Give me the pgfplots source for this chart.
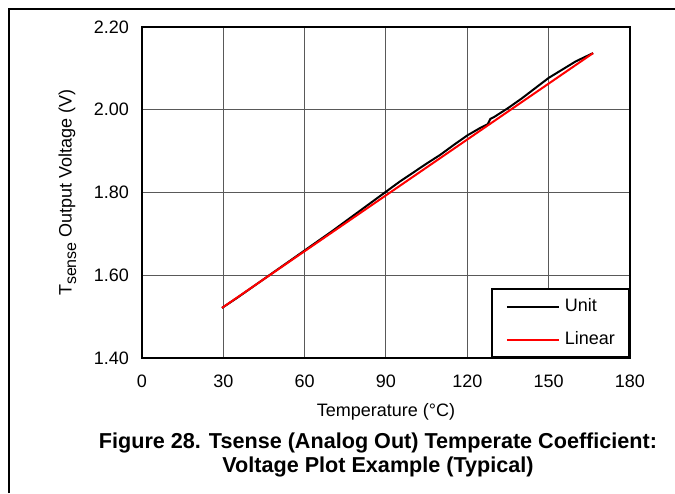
\documentclass[border=0pt]{standalone}
\usepackage{fontspec}
\setmainfont{Liberation Sans}
\usepackage{pgfplots}
\pgfplotsset{compat=1.18}

\begin{document}
\begin{tikzpicture}
% page frame (left and top rules) and bounding box
\path[use as bounding box] (-71pt,-67.5pt) rectangle (266.5pt,179pt);
\draw[line width=0.8pt] (-66.5pt,-67.5pt) -- (-66.5pt,174.5pt) -- (266.5pt,174.5pt);
\begin{axis}[
  at={(0pt,0pt)}, anchor=south west,
  scale only axis,
  width=244pt, height=165.5pt,
  xmin=0, xmax=180,
  ymin=1.4, ymax=2.2,
  xtick={0,30,...,180},
  ytick={1.4,1.6,1.8,2.0,2.2},
  grid=major,
  major grid style={line width=0.5pt, black!65},
  axis line style={line width=1.25pt},
  tick style={draw=none},
  tick label style={font=\fontsize{9}{10}\selectfont},
  /pgf/number format/assume math mode=true,
  yticklabel style={xshift=-3pt, /pgf/number format/.cd, fixed, fixed zerofill, precision=2},
  xticklabel style={yshift=-5pt},
  label style={font=\fontsize{9}{10}\selectfont},
  xlabel={Temperature (°C)},
  ylabel={T\raisebox{-0.45ex}{\fontsize{8}{9}\selectfont sense} Output Voltage (V)},
  xlabel style={yshift=-1pt},
  ylabel style={yshift=2pt},
  legend cell align=left,
  legend style={at={(1,0)}, anchor=south east, draw=black, line width=1pt,
    font=\fontsize{9}{10}\selectfont, inner xsep=7pt, inner ysep=4.5pt,
    row sep=8pt, column sep=2.5pt,
    nodes={inner sep=0pt, text height=6.5pt, text depth=2pt}},
  legend image code/.code={\draw[#1] (0pt,0pt) -- (26pt,0pt);},
]
\addplot[black, line width=1pt] coordinates {
  (29.5,1.521) (35,1.545) (40,1.568) (45,1.591) (50,1.614) (55,1.637)
  (60,1.660) (65,1.683) (70,1.706) (75,1.730) (80,1.754) (85,1.778)
  (90,1.802) (95,1.826) (100,1.848) (105,1.870) (110,1.891) (115,1.915)
  (120,1.938) (125,1.957) (127.5,1.965) (128.5,1.978) (130,1.983)
  (135,2.004) (140,2.027) (145,2.052) (150,2.077) (155,2.097)
  (160,2.117) (166.4,2.137)
};
\addlegendentry{Unit}
\addplot[red, line width=1pt] coordinates {
  (29.5,1.521) (166.4,2.137)
};
\addlegendentry{Linear}
\end{axis}
\node[align=center, font=\bfseries\fontsize{10.8}{12}\selectfont] at (118pt,-48.5pt)
  {Figure 28. Tsense (Analog Out) Temperate Coefficient:\\Voltage Plot Example (Typical)};
\end{tikzpicture}
\end{document}
